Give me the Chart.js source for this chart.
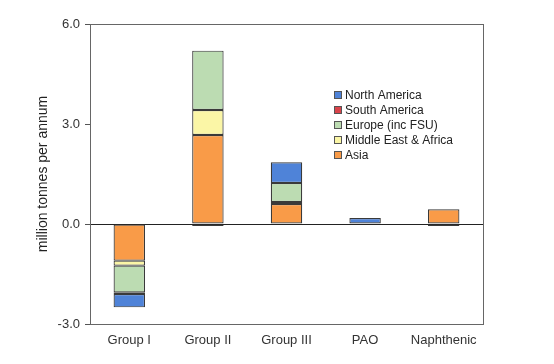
<!DOCTYPE html>
<html>
<head>
<meta charset="utf-8">
<script src="https://cdn.jsdelivr.net/npm/chart.js@4.4.1/dist/chart.umd.min.js"></script>
<style>
  html, body { margin: 0; padding: 0; background: #fff; }
  #wrap { width: 554px; height: 364px; }
</style>
</head>
<body>
<div id="wrap"><canvas id="chart" width="554" height="364"></canvas></div>
<script>
const categories = ['Group I', 'Group II', 'Group III', 'PAO', 'Naphthenic'];

// million tonnes per annum, by region
const asia = [-1.10, 2.67, 0.60, null, 0.44];
const middleEastAfrica = [-0.15, 0.75, 0.06, null, null];
const europe = [-0.80, 1.78, 0.57, null, null];
const southAmerica = [-0.05, null, null, null, null];
const northAmerica = [-0.40, -0.06, 0.62, 0.18, -0.06];

const yTicks = [-3, 0, 3, 6];

const edge = '#3a3a3a';

// stacking goes from zero outward, legend reads the other way
const datasets = [
  { label: 'Asia', data: asia, backgroundColor: '#f99b48' },
  { label: 'Middle East & Africa', data: middleEastAfrica, backgroundColor: '#fbf6a6' },
  { label: 'Europe (inc FSU)', data: europe, backgroundColor: '#bcdcb2' },
  { label: 'South America', data: southAmerica, backgroundColor: '#d9434a' },
  { label: 'North America', data: northAmerica, backgroundColor: '#4f83d8' }
].map(d => Object.assign(d, {
  borderColor: edge,
  borderWidth: 1.2,
  borderSkipped: false,
  barPercentage: 0.8,
  categoryPercentage: 0.5
}));

const frameAndLegend = {
  id: 'frameAndLegend',
  afterDraw(chart) {
    const { ctx, chartArea: a } = chart;
    ctx.save();
    ctx.strokeStyle = '#666';
    ctx.lineWidth = 1;
    ctx.strokeRect(Math.round(a.left) + 0.5, Math.round(a.top) + 0.5,
      Math.round(a.right - a.left), Math.round(a.bottom - a.top));

    // legend inside the plot
    const x0 = a.left + 244;
    const y0 = a.top + 71;
    ctx.font = '12px "Liberation Sans", Arial, sans-serif';
    ctx.textBaseline = 'middle';
    const items = chart.data.datasets.slice().reverse();
    items.forEach((ds, i) => {
      const y = y0 + i * 15;
      ctx.fillStyle = ds.backgroundColor;
      ctx.fillRect(x0, y - 4, 8, 8);
      ctx.strokeStyle = '#555';
      ctx.strokeRect(x0 + 0.5, y - 3.5, 7, 7);
      ctx.fillStyle = '#222';
      ctx.fillText(ds.label, x0 + 11, y + 1);
    });
    ctx.restore();
  }
};

new Chart(document.getElementById('chart'), {
  type: 'bar',
  data: { labels: categories, datasets },
  plugins: [frameAndLegend],
  options: {
    responsive: false,
    animation: false,
    layout: { padding: { left: 31, right: 71, top: 24, bottom: 0 } },
    plugins: {
      legend: { display: false },
      tooltip: { enabled: false }
    },
    scales: {
      x: {
        stacked: true,
        grid: { display: true, color: 'transparent', drawTicks: false },
        border: { display: true, color: '#555' },
        ticks: {
          color: '#333',
          padding: 9,
          font: { family: '"Liberation Sans", Arial, sans-serif', size: 13 }
        },
        afterFit: s => { s.height = 40; }
      },
      y: {
        stacked: true,
        min: -3,
        max: 6,
        afterBuildTicks: s => { s.ticks = yTicks.map(v => ({ value: v })); },
        grid: {
          drawOnChartArea: true,
          color: c => (c.tick && c.tick.value === 0 ? '#222' : 'transparent'),
          tickColor: '#555',
          tickLength: 5
        },
        border: { display: true, color: '#555' },
        ticks: {
          color: '#333',
          padding: 5,
          font: { family: '"Liberation Sans", Arial, sans-serif', size: 13 },
          callback: v => Number(v).toFixed(1)
        },
        title: {
          display: true,
          text: 'million tonnes per annum',
          color: '#222',
          padding: { top: 4, bottom: 0 },
          font: { family: '"Liberation Sans", Arial, sans-serif', size: 14 }
        },
        afterFit: s => { s.width = 59; }
      }
    }
  }
});
</script>
</body>
</html>
